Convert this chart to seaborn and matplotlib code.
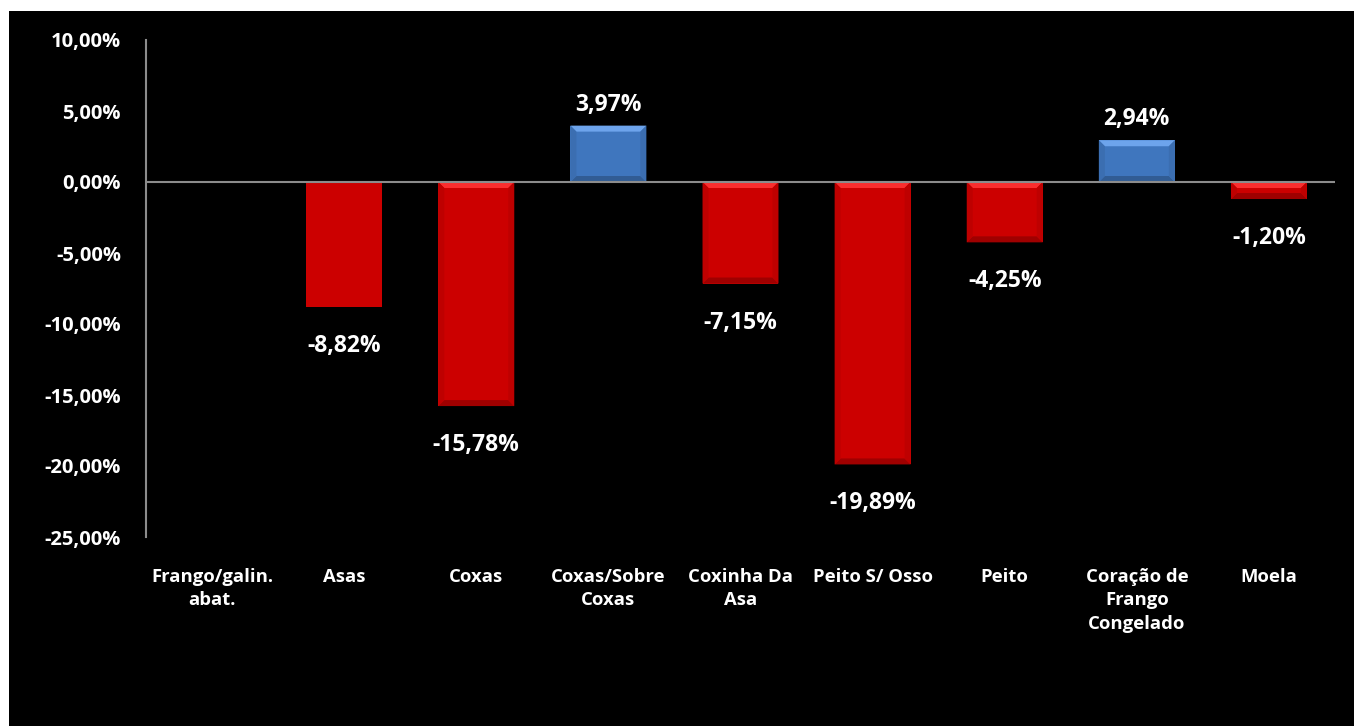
import numpy as np
import pandas as pd
import matplotlib
matplotlib.use("Agg")
import matplotlib.pyplot as plt
from matplotlib.patches import Polygon, Rectangle
import seaborn as sns

categories = ["Frango/galin.\nabat.", "Asas", "Coxas", "Coxas/Sobre\nCoxas", "Coxinha Da\nAsa",
              "Peito S/ Osso", "Peito", "Coração de\nFrango\nCongelado", "Moela"]
values = [np.nan, -8.82, -15.78, 3.97, -7.15, -19.89, -4.25, 2.94, -1.20]
y_ticks = [10, 5, 0, -5, -10, -15, -20, -25]

POS = "#3F76BE"
NEG = "#CC0000"
colors = [POS if (v == v and v > 0) else NEG for v in values]

sns.set_style("dark")
plt.rcParams["font.family"] = ["Open Sans", "DejaVu Sans"]

fig = plt.figure(figsize=(13.54, 7.26), dpi=100, facecolor="white")
fig.patches.append(Rectangle((9 / 1354, 0), 1, 1 - 11 / 726, transform=fig.transFigure,
                             facecolor="black", edgecolor="none", zorder=-10))
ax = fig.add_axes([146 / 1354, 1 - 537 / 726, (1335 - 146) / 1354, (537 - 40) / 726])
ax.set_facecolor("black")

df = pd.DataFrame({"cat": categories, "val": values})
sns.barplot(data=df, x="cat", y="val", hue="cat", palette=colors, legend=False,
            width=0.575, ax=ax, saturation=1, edgecolor="none", zorder=2)

ax.set_ylim(-25, 10)
ax.set_xlim(-0.5, len(categories) - 0.5)
ax.set_yticks(y_ticks)
ax.set_yticklabels([f"{t:.2f}%".replace(".", ",") for t in y_ticks],
                   fontsize=14.5, fontweight="bold", color="white")
ax.tick_params(axis="y", length=0, pad=18)
ax.tick_params(axis="x", length=0, pad=22)
ax.set_xticks(range(len(categories)))
ax.set_xticklabels(categories, fontsize=13.3, fontweight="bold", color="white",
                   linespacing=1.42, va="top")
ax.set_xlabel("")
ax.set_ylabel("")
ax.grid(False)
for s in ["top", "right", "bottom"]:
    ax.spines[s].set_visible(False)
ax.spines["left"].set_visible(True)
ax.spines["left"].set_color("#8C8C8C")
ax.spines["left"].set_linewidth(1.5)
ax.axhline(0, color="#8C8C8C", linewidth=1.5, zorder=3)

# subtle bevel effect derived from the drawn bar geometry
fig.canvas.draw()
for p, v in zip(ax.patches, values):
    if not (v == v):
        continue
    x0, w = p.get_x(), p.get_width()
    y0, h = p.get_y(), p.get_height()
    (X0, Ya), (X1, Yb) = ax.transData.transform([(x0, y0), (x0 + w, y0 + h)])
    top, bot = max(Ya, Yb), min(Ya, Yb)
    b = min(6, (top - bot) / 2)
    base = matplotlib.colors.to_rgb(p.get_facecolor())
    light = tuple(min(1, c + 0.18) for c in base)
    dark = tuple(c * 0.78 for c in base)
    side = tuple(c * 0.93 for c in base)
    polys = [
        ([(X0, top), (X1, top), (X1 - b, top - b), (X0 + b, top - b)], light),
        ([(X0, bot), (X1, bot), (X1 - b, bot + b), (X0 + b, bot + b)], dark),
        ([(X0, top), (X0 + b, top - b), (X0 + b, bot + b), (X0, bot)], side),
        ([(X1, top), (X1 - b, top - b), (X1 - b, bot + b), (X1, bot)], side),
    ]
    for pts, col in polys:
        ax.add_patch(Polygon(pts, closed=True, transform=None, facecolor=col,
                             edgecolor="none", zorder=2.5))

for i, v in enumerate(values):
    if not (v == v):
        continue
    off = 21 if v > 0 else -39
    ax.annotate(f"{v:.2f}%".replace(".", ","), (i, v), xytext=(0, off * 0.72),
                textcoords="offset points", ha="center", va="center",
                fontsize=16.5, fontweight="bold", color="white", zorder=4)

fig.savefig("out.png", dpi=100, facecolor=fig.get_facecolor())
